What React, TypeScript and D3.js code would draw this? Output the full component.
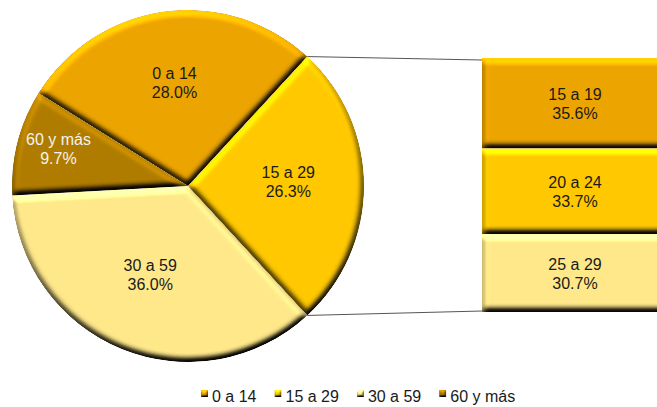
import { useEffect, useRef } from "react";
import * as d3 from "d3";

// main pie (age groups)
const mainLabels = ["0 a 14", "15 a 29", "30 a 59", "60 y más"];
const mainValues = [28.0, 26.3, 36.0, 9.7];
const mainColors = ["#ECA400", "#FFC800", "#FFE88A", "#B07C00"];
const mainText = ["#1a1a1a", "#1a1a1a", "#1a1a1a", "#f2f2f2"];

// breakdown of "15 a 29" in the stacked bar
const barLabels = ["15 a 19", "20 a 24", "25 a 29"];
const barValues = [35.6, 33.7, 30.7];
const barColors = ["#ECA400", "#FFC800", "#FFE88A"];

const splitIndex = 1; // slice that is expanded into the bar

const W = 657;
const H = 407;
const FONT = "'Liberation Sans', Arial, sans-serif";

export default function App() {
  const ref = useRef<SVGSVGElement | null>(null);

  useEffect(() => {
    const svg = d3.select(ref.current);
    svg.selectAll("*").remove();

    const defs = svg.append("defs");
    const bevel = (id: string, blur: number, scale: number) => {
      const el = 50;
      const f = defs
        .append("filter")
        .attr("id", id)
        .attr("color-interpolation-filters", "sRGB")
        .attr("x", "-5%")
        .attr("y", "-5%")
        .attr("width", "110%")
        .attr("height", "110%");
      f.append("feGaussianBlur").attr("in", "SourceAlpha").attr("stdDeviation", blur).attr("result", "b");
      f.append("feDiffuseLighting")
        .attr("in", "b")
        .attr("surfaceScale", scale)
        .attr("diffuseConstant", 1)
        .attr("lighting-color", "#fff")
        .attr("result", "l")
        .append("feDistantLight")
        .attr("azimuth", 255)
        .attr("elevation", el);
      f.append("feComposite")
        .attr("in", "l")
        .attr("in2", "SourceGraphic")
        .attr("operator", "arithmetic")
        .attr("k1", 1 / Math.sin((el * Math.PI) / 180))
        .attr("k2", 0)
        .attr("k3", 0)
        .attr("k4", 0)
        .attr("result", "c");
      f.append("feComposite").attr("in", "c").attr("in2", "SourceGraphic").attr("operator", "in");
    };
    bevel("bevel", 3, 5);
    bevel("bevelSmall", 1, 2);

    // pie
    const cx = 188;
    const cy = 186;
    const r = 176;
    const total = d3.sum(mainValues);
    const before = d3.sum(mainValues.slice(0, splitIndex)) / total;
    const half = mainValues[splitIndex] / total / 2;
    const start = Math.PI / 2 - (before + half) * 2 * Math.PI;

    const pie = d3
      .pie<number>()
      .sort(null)
      .startAngle(start)
      .endAngle(start + 2 * Math.PI);
    const arcs = pie(mainValues);
    const arc = d3.arc<d3.PieArcDatum<number>>().innerRadius(0).outerRadius(r);

    const g = svg.append("g").attr("transform", `translate(${cx},${cy})`);
    g.selectAll("path")
      .data(arcs)
      .join("path")
      .attr("d", arc)
      .attr("fill", (_, i) => mainColors[i])
      .attr("filter", "url(#bevel)");

    arcs.forEach((a, i) => {
      const mid = (a.startAngle + a.endAngle) / 2;
      const k = a.value < 15 ? 0.76 : 0.57;
      const x = Math.sin(mid) * r * k;
      const y = -Math.cos(mid) * r * k - 5;
      const t = g
        .append("text")
        .attr("text-anchor", "middle")
        .attr("font-family", FONT)
        .attr("font-size", 16)
        .attr("fill", mainText[i]);
      t.append("tspan").attr("x", x).attr("y", y - 3).text(mainLabels[i]);
      t.append("tspan").attr("x", x).attr("y", y + 16).text(`${mainValues[i].toFixed(1)}%`);
    });

    // stacked bar
    const barX = 482;
    const barW = 186;
    const y = d3.scaleLinear().domain([0, d3.sum(barValues)]).range([58, 312]);
    const cum = d3.cumsum([0, ...barValues]);

    const split = arcs[splitIndex];
    const p0 = [cx + Math.sin(split.startAngle) * r, cy - Math.cos(split.startAngle) * r];
    const p1 = [cx + Math.sin(split.endAngle) * r, cy - Math.cos(split.endAngle) * r];
    svg.append("line")
      .attr("x1", p0[0]).attr("y1", p0[1])
      .attr("x2", barX).attr("y2", y(0) + 2)
      .attr("stroke", "#555").attr("stroke-width", 1);
    svg.append("line")
      .attr("x1", p1[0]).attr("y1", p1[1])
      .attr("x2", barX).attr("y2", y(cum[barValues.length]) - 1)
      .attr("stroke", "#555").attr("stroke-width", 1);

    barValues.forEach((v, i) => {
      const y0 = y(cum[i]);
      const y1 = y(cum[i + 1]);
      svg.append("rect")
        .attr("x", barX)
        .attr("y", y0)
        .attr("width", barW)
        .attr("height", y1 - y0)
        .attr("fill", barColors[i])
        .attr("filter", "url(#bevel)");
      const t = svg.append("text")
        .attr("text-anchor", "middle")
        .attr("font-family", FONT)
        .attr("font-size", 16)
        .attr("fill", "#1a1a1a");
      const mx = barX + barW / 2;
      const my = (y0 + y1) / 2;
      t.append("tspan").attr("x", mx).attr("y", my - 3).text(barLabels[i]);
      t.append("tspan").attr("x", mx).attr("y", my + 16).text(`${v.toFixed(1)}%`);
    });

    // legend
    let lx = 201;
    mainLabels.forEach((lab, i) => {
      const lg = svg.append("g").attr("transform", `translate(${lx},0)`);
      lg.append("rect")
        .attr("x", 0).attr("y", 390)
        .attr("width", 7).attr("height", 7)
        .attr("fill", mainColors[i])
        .attr("filter", "url(#bevelSmall)");
      const t = lg.append("text")
        .attr("x", 11)
        .attr("y", 402)
        .attr("font-family", FONT)
        .attr("font-size", 16)
        .attr("fill", "#1a1a1a")
        .text(lab);
      const tw = (t.node() as SVGTextElement).getComputedTextLength();
      lx += 11 + tw + 18;
    });
  }, []);

  return (
    <svg
      ref={ref}
      width={W}
      height={H}
      style={{ position: "absolute", left: 0, top: 0, background: "#fff" }}
    />
  );
}
